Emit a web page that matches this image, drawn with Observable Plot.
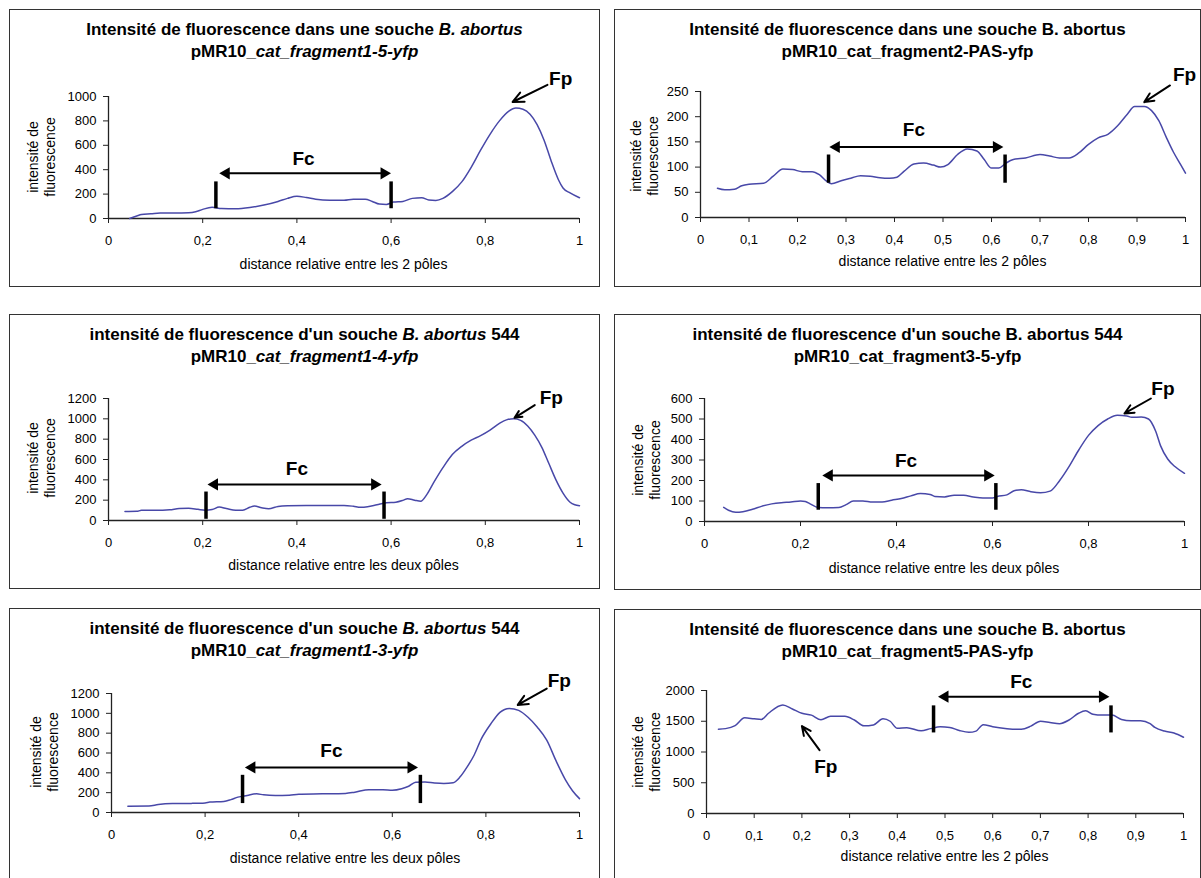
<!DOCTYPE html>
<html><head><meta charset="utf-8">
<script src="https://cdn.jsdelivr.net/npm/d3@7"></script>
<script src="https://cdn.jsdelivr.net/npm/@observablehq/plot@0.6"></script>
<style>
body{margin:0;background:#fff;font-family:"Liberation Sans",Arial,sans-serif;}
#page{position:relative;width:1201px;height:878px;overflow:hidden;background:#fff}
.box{position:absolute;border:1.5px solid #333;box-sizing:border-box;}
.title{position:absolute;text-align:center;font-weight:bold;font-size:17px;line-height:22px;white-space:nowrap;color:#000}
.xt{position:absolute;font-size:14px;white-space:nowrap;transform:translate(-50%,-50%);color:#000}
.yt{position:absolute;font-size:14px;line-height:17px;text-align:center;white-space:nowrap;transform:translate(-50%,-50%) rotate(-90deg);color:#000}
.plotwrap{position:absolute}
.plotwrap svg{overflow:visible}
</style></head>
<body><div id="page"></div>
<script>
// ---------- data ----------
const xTicks5 = [0, 0.2, 0.4, 0.6, 0.8, 1];
const xTicks10 = [0, 0.1, 0.2, 0.3, 0.4, 0.5, 0.6, 0.7, 0.8, 0.9, 1];
const yTicks1 = [0, 200, 400, 600, 800, 1000];
const yTicks2 = [0, 50, 100, 150, 200, 250];
const yTicks3 = [0, 200, 400, 600, 800, 1000, 1200];
const yTicks4 = [0, 100, 200, 300, 400, 500, 600];
const yTicks5 = [0, 200, 400, 600, 800, 1000, 1200];
const yTicks6 = [0, 500, 1000, 1500, 2000];

const xTitle2 = "distance relative entre les 2 pôles";
const xTitleDeux = "distance relative entre les deux pôles";
const yTitle = ["intensité de", "fluorescence"];

const title1 = [[["Intensité de fluorescence dans une souche ", 0], ["B. abortus", 1]], [["pMR10_", 0], ["cat_fragment1-5-yfp", 1]]];
const title2 = [[["Intensité de fluorescence dans une souche B. abortus", 0]], [["pMR10_cat_fragment2-PAS-yfp", 0]]];
const title3 = [[["intensité de fluorescence d'un souche ", 0], ["B. abortus", 1], [" 544", 0]], [["pMR10_", 0], ["cat_fragment1-4-yfp", 1]]];
const title4 = [[["intensité de fluorescence d'un souche B. abortus 544", 0]], [["pMR10_cat_fragment3-5-yfp", 0]]];
const title5 = [[["intensité de fluorescence d'un souche ", 0], ["B. abortus", 1], [" 544", 0]], [["pMR10_", 0], ["cat_fragment1-3-yfp", 1]]];
const title6 = [[["Intensité de fluorescence dans une souche B. abortus", 0]], [["pMR10_cat_fragment5-PAS-yfp", 0]]];

const x1 = [0.045,0.06,0.07,0.09,0.11,0.14,0.17,0.185,0.2,0.22,0.24,0.27,0.3,0.33,0.36,0.38,0.40,0.42,0.44,0.47,0.50,0.52,0.545,0.56,0.575,0.59,0.605,0.625,0.645,0.665,0.68,0.695,0.71,0.73,0.75,0.77,0.79,0.81,0.83,0.85,0.865,0.88,0.895,0.91,0.925,0.94,0.955,0.965,0.98,1.0];
const y1 = [0,20,32,38,45,45,47,55,75,92,82,80,90,110,140,165,182,172,158,150,150,158,158,140,118,115,135,140,165,170,152,148,165,220,300,420,560,690,800,880,905,895,855,770,640,470,320,250,210,170];

const x2 = [0.035,0.05,0.07,0.085,0.1,0.13,0.15,0.17,0.19,0.21,0.23,0.245,0.26,0.27,0.29,0.31,0.33,0.35,0.37,0.39,0.405,0.42,0.44,0.46,0.48,0.495,0.51,0.53,0.55,0.57,0.585,0.60,0.615,0.63,0.645,0.67,0.70,0.72,0.74,0.76,0.78,0.80,0.82,0.84,0.86,0.88,0.895,0.915,0.93,0.945,0.96,0.975,0.99,1.0];
const y2 = [58,55,56,63,66,68,82,96,95,91,91,85,72,67,73,78,83,82,79,78,80,92,106,108,104,100,105,125,136,132,115,98,98,108,115,118,125,122,118,118,128,145,158,165,182,205,220,220,212,192,160,130,105,88];

const x3 = [0.035,0.06,0.07,0.1,0.13,0.15,0.17,0.19,0.205,0.22,0.235,0.25,0.27,0.285,0.30,0.31,0.325,0.34,0.36,0.38,0.42,0.46,0.50,0.52,0.535,0.55,0.57,0.59,0.61,0.625,0.635,0.65,0.663,0.675,0.69,0.71,0.73,0.75,0.77,0.79,0.81,0.83,0.845,0.86,0.875,0.89,0.905,0.92,0.935,0.95,0.965,0.98,0.99,1.0];
const y3 = [88,90,100,100,105,118,120,110,102,108,132,118,100,102,130,142,125,115,138,145,148,148,148,140,130,135,155,175,180,198,215,200,190,250,370,520,650,730,790,835,890,955,990,1000,985,930,840,720,560,400,270,180,155,145];

const x4 = [0.04,0.05,0.065,0.08,0.1,0.12,0.14,0.16,0.18,0.2,0.21,0.22,0.237,0.255,0.28,0.295,0.31,0.33,0.35,0.37,0.39,0.41,0.43,0.45,0.47,0.48,0.5,0.52,0.54,0.56,0.58,0.6,0.61,0.63,0.645,0.66,0.68,0.70,0.72,0.74,0.76,0.78,0.80,0.82,0.84,0.86,0.88,0.89,0.91,0.925,0.94,0.95,0.965,0.98,1.0];
const y4 = [69,55,45,48,60,75,86,92,95,100,98,86,68,67,68,82,100,100,95,95,104,112,125,136,132,122,120,128,128,120,115,115,122,130,150,155,145,140,148,200,270,350,420,468,500,518,515,508,510,500,440,370,305,268,235];

const x5 = [0.035,0.08,0.1,0.13,0.17,0.2,0.21,0.24,0.255,0.27,0.29,0.31,0.325,0.35,0.38,0.40,0.45,0.50,0.52,0.55,0.58,0.60,0.62,0.635,0.65,0.67,0.69,0.71,0.73,0.745,0.76,0.775,0.79,0.81,0.83,0.85,0.87,0.89,0.91,0.93,0.95,0.97,0.985,1.0];
const y5 = [64,65,80,90,92,97,105,112,130,155,172,188,178,172,175,185,188,192,205,230,230,225,240,265,305,308,298,293,300,360,460,580,740,890,1010,1050,1030,960,860,730,520,330,220,140];

const x6 = [0.025,0.04,0.06,0.08,0.1,0.115,0.13,0.16,0.18,0.2,0.22,0.24,0.26,0.29,0.31,0.33,0.35,0.37,0.385,0.4,0.42,0.45,0.47,0.49,0.51,0.53,0.55,0.565,0.58,0.6,0.63,0.66,0.68,0.70,0.72,0.74,0.76,0.78,0.795,0.81,0.83,0.85,0.87,0.89,0.91,0.93,0.94,0.96,0.98,1.0];
const y6 = [1370,1380,1430,1555,1540,1530,1630,1765,1700,1630,1600,1525,1580,1580,1520,1425,1440,1540,1500,1385,1395,1345,1380,1410,1400,1350,1320,1340,1445,1410,1380,1370,1420,1500,1480,1460,1520,1630,1670,1615,1600,1600,1530,1510,1510,1460,1400,1340,1310,1240];

// annotation values (data units)
const fcBars1 = [0.228, 0.60], fcSpan1 = [80, 300], fcArrow1 = [0.25, 0.585, 370], fcText1 = [0.414, 490], fpText1 = [0.96, 1145], fpArrow1 = [0.932, 1095, 0.858, 955];
const fcBars2 = [0.264, 0.628], fcSpan2 = [68, 124], fcArrow2 = [0.28, 0.61, 140], fcText2 = [0.44, 174], fpText2 = [0.998, 282], fpArrow2 = [0.968, 262, 0.915, 229];
const fcBars3 = [0.207, 0.585], fcSpan3 = [12, 280], fcArrow3 = [0.225, 0.565, 355], fcText3 = [0.40, 505], fpText3 = [0.94, 1210], fpArrow3 = [0.905, 1135, 0.862, 1010];
const fcBars4 = [0.237, 0.607], fcSpan4 = [55, 185], fcArrow4 = [0.26, 0.59, 225], fcText4 = [0.42, 298], fpText4 = [0.955, 645], fpArrow4 = [0.93, 600, 0.875, 527];
const fcBars5 = [0.28, 0.66], fcSpan5 = [90, 375], fcArrow5 = [0.30, 0.64, 455], fcText5 = [0.47, 620], fpText5 = [0.957, 1330], fpArrow5 = [0.93, 1250, 0.868, 1085];
const fcBars6 = [0.476, 0.848], fcSpan6 = [1310, 1750], fcArrow6 = [0.50, 0.83, 1900], fcText6 = [0.66, 2140], fpText6 = [0.25, 750], fpArrow6 = [0.237, 1030, 0.2, 1420];

// ---------- layout ----------
const LINE = "#4848a8";
const fmt = d => String(d).replace(".", ",");

const panels = [
  {box:[9,9,600,287], x0:108, x1:579, y0:218, yTop:96, yMax:1000, xs:x1, ys:y1, xT:xTicks5, yT:yTicks1, title:title1, xTitle:xTitle2, xTitleY:264, yTitleX:42, yTitleY:157,
   bars:fcBars1, span:fcSpan1, arr:fcArrow1, fc:fcText1, fp:fpText1, fpA:fpArrow1},
  {box:[614,9,1201,287], x0:700, x1:1185, y0:217, yTop:91, yMax:250, xs:x2, ys:y2, xT:xTicks10, yT:yTicks2, title:title2, xTitle:xTitle2, xTitleY:261, yTitleX:645, yTitleY:156,
   bars:fcBars2, span:fcSpan2, arr:fcArrow2, fc:fcText2, fp:fpText2, fpA:fpArrow2},
  {box:[9,314,600,589], x0:108, x1:579, y0:520, yTop:398, yMax:1200, xs:x3, ys:y3, xT:xTicks5, yT:yTicks3, title:title3, xTitle:xTitleDeux, xTitleY:565, yTitleX:42, yTitleY:458,
   bars:fcBars3, span:fcSpan3, arr:fcArrow3, fc:fcText3, fp:fpText3, fpA:fpArrow3},
  {box:[614,314,1201,590], x0:704, x1:1184, y0:521, yTop:398, yMax:600, xs:x4, ys:y4, xT:xTicks5, yT:yTicks4, title:title4, xTitle:xTitleDeux, xTitleY:568, yTitleX:647, yTitleY:460,
   bars:fcBars4, span:fcSpan4, arr:fcArrow4, fc:fcText4, fp:fpText4, fpA:fpArrow4},
  {box:[9,608,600,900], x0:111, x1:579, y0:812, yTop:693, yMax:1200, xs:x5, ys:y5, xT:xTicks5, yT:yTicks5, title:title5, xTitle:xTitleDeux, xTitleY:858, yTitleX:45, yTitleY:752,
   bars:fcBars5, span:fcSpan5, arr:fcArrow5, fc:fcText5, fp:fpText5, fpA:fpArrow5},
  {box:[614,609,1201,900], x0:706, x1:1183, y0:813, yTop:690, yMax:2000, xs:x6, ys:y6, xT:xTicks10, yT:yTicks6, title:title6, xTitle:xTitle2, xTitleY:856, yTitleX:647, yTitleY:752,
   bars:fcBars6, span:fcSpan6, arr:fcArrow6, fc:fcText6, fp:fpText6, fpA:fpArrow6}
];

const page = document.getElementById("page");
function el(cls, css) {
  const d = document.createElement("div");
  d.className = cls;
  Object.assign(d.style, css);
  page.appendChild(d);
  return d;
}

panels.forEach(p => {
  const [L, T, R, B] = p.box;
  el("box", {left: L + "px", top: T + "px", width: (R - L) + "px", height: (B - T) + "px"});
  const t = el("title", {left: L + "px", width: (R - L) + "px", top: (T + 10) + "px"});
  p.title.forEach(line => {
    const ld = document.createElement("div");
    line.forEach(([s, it]) => {
      const sp = document.createElement("span");
      sp.textContent = s;
      if (it) sp.style.fontStyle = "italic";
      ld.appendChild(sp);
    });
    t.appendChild(ld);
  });
  const xt = el("xt", {left: ((p.x0 + p.x1) / 2) + "px", top: p.xTitleY + "px"});
  xt.textContent = p.xTitle;
  const yt = el("yt", {left: p.yTitleX + "px", top: p.yTitleY + "px"});
  yTitle.forEach(s => { const d = document.createElement("div"); d.textContent = s; yt.appendChild(d); });

  const svgTop = T + 48;
  const W = R - L;
  const H = p.y0 - svgTop + 34;
  const line = p.xs.map((x, k) => ({x, y: p.ys[k]}));
  const bars = p.bars.map(x => ({x, y1: p.span[0], y2: p.span[1]}));
  const arr = [{x1: p.arr[0], x2: p.arr[1], y: p.arr[2]}];
  const heads = [{x: p.arr[0], y: p.arr[2], rot: -90}, {x: p.arr[1], y: p.arr[2], rot: 90}];
  const labels = [{x: p.fc[0], y: p.fc[1], text: "Fc"}, {x: p.fp[0], y: p.fp[1], text: "Fp"}];
  const fpA = [{x1: p.fpA[0], y1: p.fpA[1], x2: p.fpA[2], y2: p.fpA[3]}];

  const chart = Plot.plot({
    width: W, height: H,
    marginLeft: p.x0 - L, marginRight: R - p.x1,
    marginTop: p.yTop - svgTop, marginBottom: H - (p.y0 - svgTop),
    x: {domain: [0, 1]},
    y: {domain: [0, p.yMax]},
    style: {fontSize: "13px", fontFamily: "'Liberation Sans', Arial, sans-serif", color: "#000", background: "transparent", overflow: "visible"},
    marks: [
      Plot.axisX({ticks: p.xT, tickFormat: fmt, tickSize: 5, tickPadding: 12, label: null, stroke: "#222"}),
      Plot.axisY({ticks: p.yT, tickFormat: d => String(d), tickSize: 5, tickPadding: 7, label: null, stroke: "#222"}),
      Plot.ruleY([0], {stroke: "#222", strokeWidth: 1.3}),
      Plot.ruleX([0], {stroke: "#222", strokeWidth: 1.3}),
      Plot.line(line, {x: "x", y: "y", stroke: LINE, strokeWidth: 1.5, curve: "monotone-x"}),
      Plot.ruleX(bars, {x: "x", y1: "y1", y2: "y2", stroke: "#000", strokeWidth: 3.5}),
      Plot.link(arr, {x1: "x1", x2: "x2", y1: "y", y2: "y", stroke: "#000", strokeWidth: 2}),
      Plot.dot(heads, {x: "x", y: "y", symbol: "triangle", r: 4.5, rotate: "rot", fill: "#000", stroke: "none"}),
      Plot.arrow(fpA, {x1: "x1", y1: "y1", x2: "x2", y2: "y2", stroke: "#000", strokeWidth: 2, headLength: 9, headAngle: 50}),
      Plot.text(labels, {x: "x", y: "y", text: "text", fontSize: 19, fontWeight: "bold", fill: "#000"})
    ]
  });
  const w = el("plotwrap", {left: L + "px", top: svgTop + "px"});
  w.appendChild(chart);
});
</script>
</body></html>
